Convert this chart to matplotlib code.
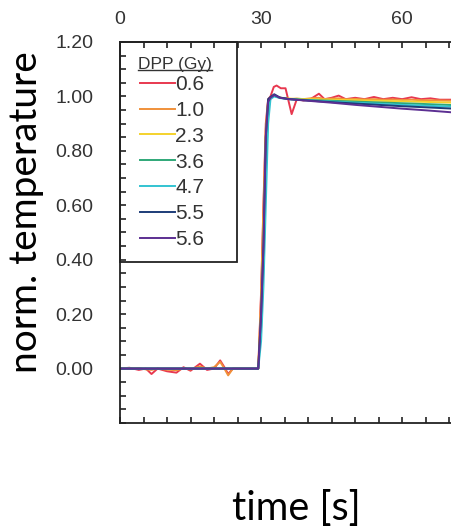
import matplotlib
matplotlib.use("Agg")
import matplotlib.pyplot as plt
from matplotlib.lines import Line2D
from matplotlib.patches import Rectangle
from matplotlib.ticker import MultipleLocator, FuncFormatter

# doses (legend) and colours
doses = ["0.6", "1.0", "2.3", "3.6", "4.7", "5.5", "5.6"]
colors = ["#e8384f", "#f0913a", "#f4d22c", "#2fa878", "#33c3d1", "#1d3c78", "#5c2f92"]

# noisy low-dose curves
t_noisy = [0, 2, 4, 5.5, 6.7, 8, 10, 12, 13.5, 15, 17, 18.5, 20, 21.3, 22.2, 23, 24, 26,
           29.4, 30.0, 30.5, 31.0, 31.5, 32.0, 32.7, 33.3, 34.2, 35.2, 36.5, 37.6, 39,
           40.5, 42.3, 43.5, 45, 46.5, 48, 50, 52, 54, 56, 58, 60, 62, 64, 66, 68, 71]
temp_06 = [0, 0.003, -0.005, 0.0, -0.02, 0.0, -0.01, -0.015, 0.005, -0.008, 0.018, -0.005,
           0.0, 0.03, 0.005, -0.02, 0.0, 0.0,
           0.0, 0.28, 0.6, 0.9, 0.99, 1.0, 1.035, 1.04, 1.03, 1.03, 0.935, 0.99, 0.985,
           0.99, 1.01, 0.99, 0.995, 1.003, 0.99, 0.995, 0.99, 0.998, 0.99, 0.995, 0.99,
           0.997, 0.99, 0.993, 0.988, 0.988]
temp_10 = [0, 0.0, 0.002, -0.003, -0.005, 0.0, -0.004, -0.006, 0.0, -0.003, 0.008, 0.0,
           0.005, 0.025, 0.0, -0.025, 0.0, 0.0,
           0.0, 0.26, 0.58, 0.88, 0.985, 0.995, 1.005, 1.0, 0.995, 0.993, 0.99, 0.992, 0.99,
           0.993, 0.995, 0.99, 0.992, 0.993, 0.99, 0.991, 0.989, 0.99, 0.988, 0.989, 0.987,
           0.988, 0.986, 0.986, 0.985, 0.984]

# smooth higher-dose curves
t_smooth = [0, 29.4, 30.0, 30.5, 31.0, 31.5, 32.0, 32.8, 34, 36, 40, 45, 50, 55, 60, 65, 71]
temp_23 = [0, 0, 0.22, 0.5, 0.85, 0.98, 0.995, 1.003, 0.995, 0.992, 0.99, 0.988, 0.986, 0.984, 0.982, 0.98, 0.977]
temp_36 = [0, 0, 0.15, 0.38, 0.72, 0.95, 0.995, 1.002, 0.995, 0.99, 0.987, 0.984, 0.981, 0.978, 0.975, 0.972, 0.968]
temp_47 = [0, 0, 0.1, 0.3, 0.6, 0.9, 0.99, 1.0, 0.994, 0.99, 0.986, 0.981, 0.977, 0.973, 0.969, 0.966, 0.962]
temp_55 = [0, 0, 0.2, 0.45, 0.85, 0.99, 0.998, 1.008, 0.996, 0.99, 0.985, 0.979, 0.974, 0.969, 0.964, 0.96, 0.955]
temp_56 = [0, 0, 0.2, 0.45, 0.85, 0.98, 0.995, 1.005, 0.995, 0.99, 0.984, 0.977, 0.969, 0.962, 0.955, 0.949, 0.941]

series = [(t_noisy, temp_06), (t_noisy, temp_10), (t_smooth, temp_23), (t_smooth, temp_36),
          (t_smooth, temp_47), (t_smooth, temp_55), (t_smooth, temp_56)]

fig = plt.figure(figsize=(4.52, 5.26), dpi=100)
ax = fig.add_axes([120 / 452, 103 / 526, 332 / 452, 381 / 526])

for (t, v), c, d in zip(series, colors, doses):
    ax.plot(t, v, color=c, lw=1.4, label=d)

ax.set_xlim(0, 70.6)
ax.set_ylim(-0.2, 1.2)

ax.spines["right"].set_visible(False)
for s in ["left", "top", "bottom"]:
    ax.spines[s].set_linewidth(1.3)
    ax.spines[s].set_color("#222222")

ax.xaxis.set_major_locator(MultipleLocator(30))
ax.xaxis.set_minor_locator(MultipleLocator(5))
ax.yaxis.set_major_locator(MultipleLocator(0.2))
ax.yaxis.set_minor_locator(MultipleLocator(0.05))
ax.yaxis.set_major_formatter(FuncFormatter(lambda v, p: "" if v < -0.01 else f"{abs(v):.2f}"))

ax.tick_params(axis="x", which="both", direction="in", top=True, bottom=True,
               labeltop=True, labelbottom=False, length=4, width=1.2, color="#222222")
ax.tick_params(axis="x", which="major", pad=10, labelsize=14, labelcolor="#333333")
ax.tick_params(axis="y", which="both", direction="in", length=4, width=1.2, color="#222222")
ax.tick_params(axis="y", which="major", pad=19, labelsize=14, labelcolor="#333333")
for lab in ax.get_xticklabels() + ax.get_yticklabels():
    lab.set_fontfamily("Liberation Sans")

# legend: box, title and entries
ax.add_patch(Rectangle((0, 161 / 381), 117 / 332, 220 / 381, transform=ax.transAxes,
                       fill=False, ec="#222222", lw=1.3, clip_on=False, zorder=5))
leg = ax.legend(loc="upper left", bbox_to_anchor=(20 / 332, 1 - 33 / 381),
                frameon=False, handlelength=1.68, handletextpad=0,
                labelspacing=0.33, borderpad=0, borderaxespad=0,
                prop={"family": "Liberation Sans", "size": 15})
for txt in leg.get_texts():
    txt.set_color("#333333")
title = ax.text(55 / 332, 1 - 23 / 381, "DPP (Gy)", transform=ax.transAxes,
                ha="center", va="center", fontsize=12.5, family="Liberation Sans",
                color="#333333")

fig.text(26 / 452, 1 - 212 / 526, "norm. temperature", rotation=90, ha="center", va="center",
         fontsize=28, family="Lato")
fig.text(296 / 452, 1 - 508 / 526, "time [s]", ha="center", va="center",
         fontsize=28.5, family="Lato")

# underline legend title
fig.canvas.draw()
bb = title.get_window_extent()
fig.add_artist(Line2D([bb.x0, bb.x1], [bb.y0 + 2, bb.y0 + 2], transform=None,
                      color="#333333", lw=1.0))

fig.savefig("out.png", dpi=100)
